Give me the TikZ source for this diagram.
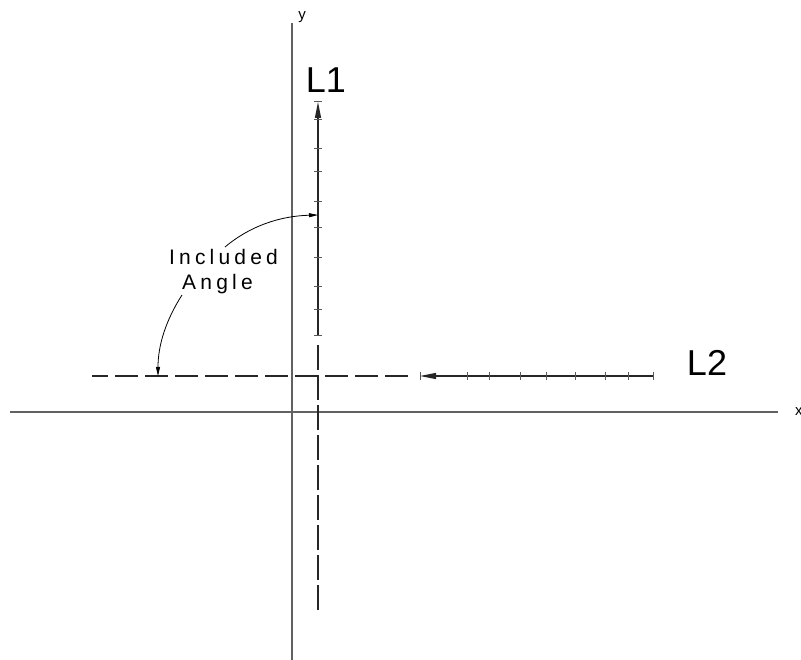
\documentclass[tikz,border=0pt]{standalone}
\usepackage{fontspec}
\setmainfont{Liberation Sans}
\newfontfamily\spacedfont[LetterSpace=20]{Liberation Sans}
\usetikzlibrary{arrows.meta}
\begin{document}
\begin{tikzpicture}[x=1pt,y=-1pt,
  axisline/.style={draw=black!62,line width=1.3pt},
  lline/.style={draw=black!85,line width=1.1pt},
  tickmark/.style={draw=black!65,line width=1pt},
  dashline/.style={draw=black!85,line width=1.1pt},
  leader/.style={draw=black,line width=0.8pt,-{Triangle[length=9pt,width=4pt]}},
  bigtip/.style={-{Triangle[length=16pt,width=6pt]}},
  biglabel/.style={font=\fontsize{36}{36}\selectfont,inner sep=0pt,anchor=base},
  smalllabel/.style={font=\fontsize{15}{15}\selectfont,inner sep=0pt,anchor=base},
  anglelabel/.style={font=\spacedfont\fontsize{21}{21}\selectfont,inner sep=0pt,anchor=base}]
\useasboundingbox (0,0) rectangle (801,660);
% axes
\coordinate (xl) at (10,412);
\coordinate (xr) at (778,412);
\coordinate (yt) at (292,23);
\coordinate (yb) at (292,660);
\draw[axisline] (xl) -- (xr);
\draw[axisline] (yb) -- (yt);
\node[smalllabel] (ylab) at (302,20) {y};
\node[smalllabel,anchor=base west] (xlab) at (795,415) {x};
% L1
\coordinate (l1a) at (318,336);
\coordinate (l1b) at (318,102);
\coordinate (l1d1) at (318,345);
\coordinate (l1d2) at (318,610);
\draw[lline,bigtip] (l1a) -- (l1b);
\draw[dashline,dash pattern=on 25pt off 5pt] (l1d1) -- (l1d2);
\foreach \t in {102,120,149,172,202,228,258,287,310,336}
  \draw[tickmark] (314,\t) -- (322,\t);
\node[biglabel] (L1) at (326,93) {L1};
% L2
\coordinate (l2a) at (653,376);
\coordinate (l2b) at (420,376);
\coordinate (l2d1) at (408,376);
\coordinate (l2d2) at (92,376);
\draw[lline,bigtip] (l2a) -- (l2b);
\draw[dashline,dash pattern=on 23pt off 7pt] (l2d1) -- (l2d2);
\foreach \t in {420,467,489,520,546,575,605,628,653}
  \draw[tickmark] (\t,372) -- (\t,380);
\node[biglabel] (L2) at (707,376) {L2};
% labels
\node[anglelabel] (inc) at (223.5,265) {Included};
\node[anglelabel] (ang) at (217.5,290) {Angle};
\coordinate (t1) at (318,215);
\coordinate (t2) at (158,376);
\draw[leader] (225,247) .. controls (250,226) and (280,216) .. (t1);
\draw[leader] (182,295) .. controls (166,320) and (158,345) .. (t2);
\end{tikzpicture}
\end{document}
